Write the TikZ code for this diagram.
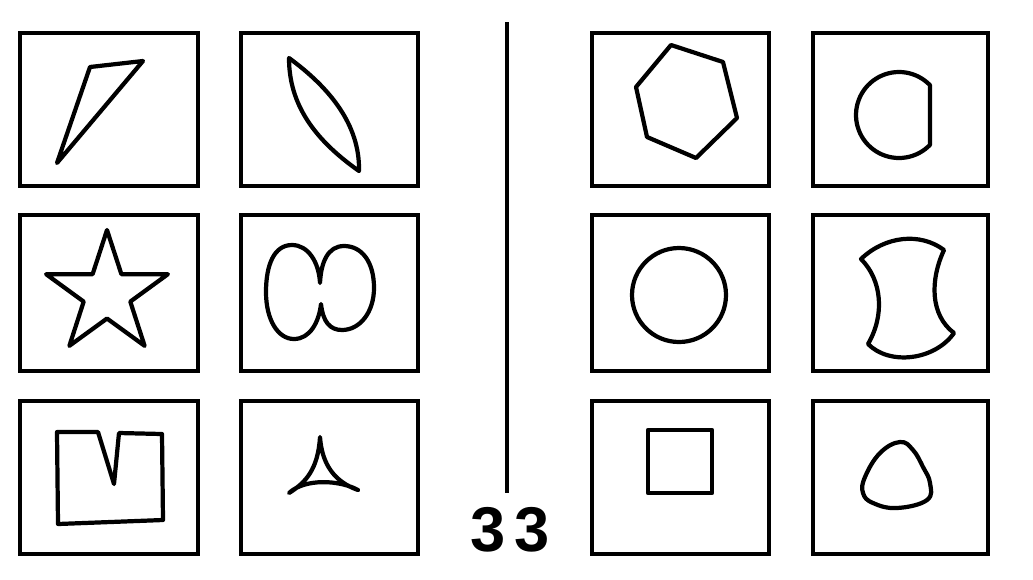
\documentclass[tikz,border=0pt]{standalone}
\usepackage{fontspec}
\newfontfamily\numfont{Liberation Sans}

\begin{document}
\begin{tikzpicture}[x=0.02cm,y=-0.02cm,
  box/.style={line width=2.2pt},
  fig/.style={line width=2.4pt,line join=round}]

\fill[white] (0,0) rectangle (1033,579);
\useasboundingbox (0,0) rectangle (1033,579);

%\draw[very thin,color=lightgray,step=50] (0,0) grid (1033,579);

\foreach \xa/\xb in {20/198,241/418,592/769,813/988}
  \foreach \ya/\yb in {33/186,215/371,401/554}
    \draw[box] (\xa,\ya) rectangle (\xb,\yb);

\draw[line width=2.4pt] (507,22) -- (507,493);
\node[font={\numfont\fontsize{36}{36}\selectfont\bfseries}] (num) at (510,530) {3\hspace{5pt}3};

% left half
\draw[fig] (57,163) -- (90,67) -- (143,61) -- cycle;
\draw[fig] (289,58) .. controls (289,105) and (315,140) .. (359,171)
  .. controls (360,125) and (330,88) .. (289,58) -- cycle;
\draw[fig] (107,230) -- (121.4,274.2) -- (167.9,274.2) -- (130.3,301.6) -- (144.6,345.8)
  -- (107,318.5) -- (69.4,345.8) -- (83.7,301.6) -- (46.1,274.2) -- (92.6,274.2) -- cycle;
\draw[fig] (320,283) .. controls (319,262) and (308,245) .. (292,245)
  .. controls (274,245) and (266,265) .. (266,292)
  .. controls (266,320) and (278,339) .. (294,339)
  .. controls (310,339) and (319,322) .. (321,304)
  .. controls (323,322) and (330,330) .. (342,330)
  .. controls (360,330) and (374,312) .. (374,288)
  .. controls (374,262) and (362,246) .. (344,246)
  .. controls (328,246) and (321,262) .. (320,283) -- cycle;
\draw[fig] (57,432) -- (98,432) -- (114,484) -- (119,433) -- (162,434) -- (163,520) -- (58,524) -- cycle;
\draw[fig] (320,437) .. controls (318,470) and (305,483) .. (289,493)
  .. controls (305,478) and (340,480) .. (358,490)
  .. controls (335,482) and (322,465) .. (320,437) -- cycle;

% right half
\draw[fig] (671,45) -- (723,62) -- (737,118) -- (696,158) -- (647,137) -- (636,87) -- cycle;
\draw[fig] plot[domain=44:316,samples=60,smooth,variable=\t] ({899+43*cos(\t)},{115+43*sin(\t)}) -- cycle;
\draw[fig] (679,295) circle (47);
\draw[fig] (861,259) .. controls (885,236) and (920,232) .. (944,250)
  .. controls (930,280) and (930,315) .. (954,333)
  .. controls (935,360) and (890,366) .. (868,344)
  .. controls (885,315) and (882,280) .. (861,259) -- cycle;
\draw[fig] (648,430) rectangle (712,493);
\draw[fig] plot[smooth cycle,tension=0.7] coordinates {(900,442) (913,450) (923,467) (930,483)
  (927,500) (897,508) (873,503) (863,493) (865,477) (880,453)};

\end{tikzpicture}
\end{document}
